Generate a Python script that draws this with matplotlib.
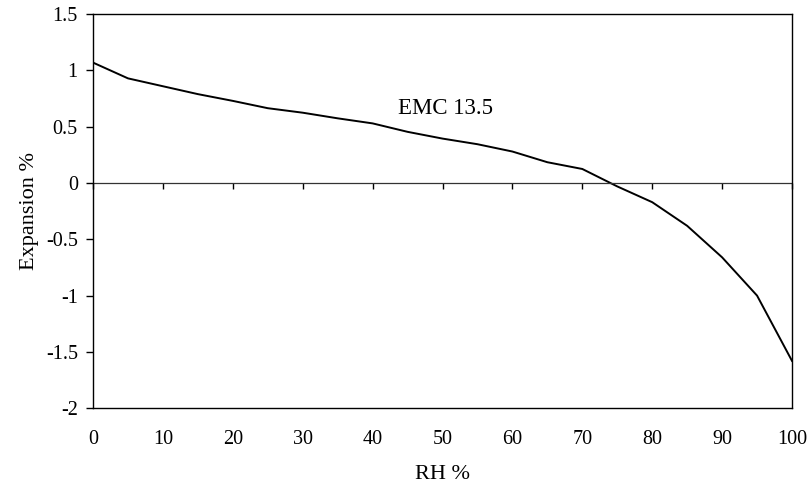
import matplotlib
matplotlib.use("Agg")
import matplotlib.pyplot as plt

rh = [0, 5, 10, 15, 20, 25, 30, 35, 40, 45, 50, 55, 60, 65, 70, 75, 80, 85, 90, 95, 100]
expansion = [1.07, 0.93, 0.86, 0.79, 0.73, 0.665, 0.625, 0.575, 0.53, 0.455, 0.395,
             0.345, 0.28, 0.185, 0.125, -0.03, -0.17, -0.38, -0.66, -1.0, -1.58]
series_label = "EMC 13.5"
x_ticks = [0, 10, 20, 30, 40, 50, 60, 70, 80, 90, 100]
y_ticks = [-2, -1.5, -1, -0.5, 0, 0.5, 1, 1.5]
y_tick_labels = ["-2", "-1.5", "-1", "-0.5", "0", "0.5", "1", "1.5"]
xlim = (0, 100)
ylim = (-2, 1.5)

plt.rcParams['font.family'] = ['Liberation Serif', 'DejaVu Serif']

fig = plt.figure(figsize=(8.09, 4.90), dpi=100)
ax = fig.add_axes([0.115, 0.167, 0.864, 0.804])

ax.plot(rh, expansion, color='black', lw=1.4)
ax.set_xlim(*xlim)
ax.set_ylim(*ylim)

ax.set_yticks(y_ticks)
ax.set_yticklabels(y_tick_labels)
ax.set_xticks(x_ticks)
ax.set_xticklabels([str(t) for t in x_ticks])
ax.tick_params(axis='y', direction='out', length=5, width=1, labelsize=14.5, pad=6)
ax.tick_params(axis='x', length=0, labelsize=14.5, pad=16)

for s in ax.spines.values():
    s.set_color('black')
    s.set_linewidth(1.0)

# axis line crossing at zero
ax.axhline(0, color='#333333', lw=0.9)
zero_loc = (0 - ylim[0]) / (ylim[1] - ylim[0])
sec = ax.secondary_xaxis(zero_loc)
sec.set_xticks(x_ticks)
for s in sec.spines.values():
    s.set_visible(False)
sec.xaxis.set_ticks_position('bottom')
sec.tick_params(axis='x', direction='out', length=4, width=1, labelbottom=False, labeltop=False)

ax.text(50.4, 0.66, series_label, fontsize=16.5, ha='center', va='center')

ax.set_xlabel("RH %", fontsize=16, labelpad=11)
ax.set_ylabel("Expansion %", fontsize=16, labelpad=5)

fig.savefig("out.png", dpi=100)
